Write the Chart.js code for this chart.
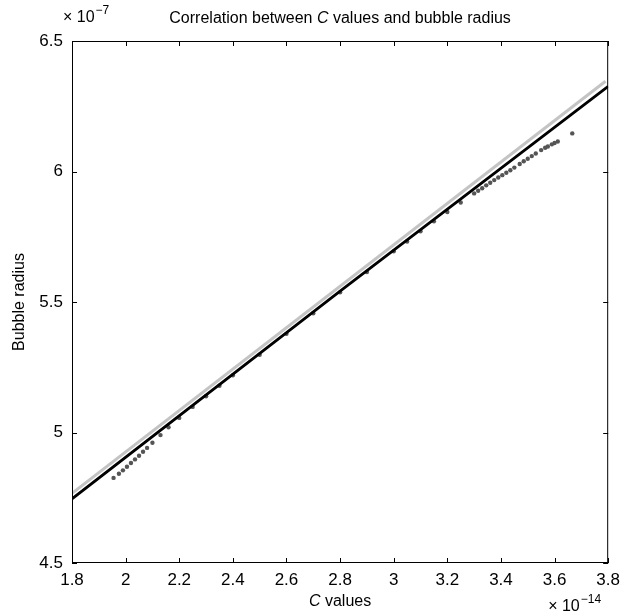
<!DOCTYPE html>
<html>
<head>
<meta charset="utf-8">
<script src="https://cdn.jsdelivr.net/npm/chart.js@4"></script>
<style>
  body { margin: 0; background: #fff; }
  #wrap { width: 627px; height: 613px; }
</style>
</head>
<body>
<div id="wrap"><canvas id="corr__chart" width="627" height="613"></canvas></div>
<script>
// C values (x 1e-14) and bubble radius (x 1e-7)
var cValues = [1.955, 1.975, 1.99, 2.005, 2.02, 2.035, 2.05, 2.065, 2.08, 2.1, 2.13, 2.16,
    2.2, 2.25, 2.3, 2.35, 2.4, 2.5, 2.6, 2.7, 2.8, 2.9, 3.0, 3.05, 3.1, 3.15, 3.2, 3.25,
    3.3, 3.315, 3.33, 3.345, 3.36, 3.375, 3.39, 3.405, 3.42, 3.435, 3.45, 3.47, 3.485,
    3.5, 3.515, 3.53, 3.55, 3.565, 3.575, 3.59, 3.6, 3.612, 3.666];
var bubbleRadius = [4.826, 4.842, 4.855, 4.869, 4.883, 4.897, 4.911, 4.926, 4.941, 4.961, 4.99, 5.02,
    5.056, 5.098, 5.139, 5.179, 5.219, 5.298, 5.378, 5.457, 5.537, 5.615, 5.694, 5.732, 5.771, 5.809, 5.845, 5.881,
    5.916, 5.926, 5.936, 5.947, 5.957, 5.967, 5.977, 5.986, 5.995, 6.005, 6.015, 6.029, 6.039,
    6.049, 6.059, 6.069, 6.082, 6.091, 6.096, 6.104, 6.109, 6.115, 6.146];

// fitted curve (black) and reference line (light grey)
var fitX = [1.8, 2.8, 3.8];
var fitY = [4.746, 5.542, 6.326];
var refX = [1.8, 3.79];
var refY = [4.767, 6.346];

var xTicks = [1.8, 2, 2.2, 2.4, 2.6, 2.8, 3, 3.2, 3.4, 3.6, 3.8];
var yTicks = [4.5, 5, 5.5, 6, 6.5];

var FONT = '"Liberation Sans", Arial, sans-serif';

function toPoints(xs, ys) {
    return xs.map(function (x, i) { return { x: x, y: ys[i] }; });
}

// "× 10" followed by a raised, smaller exponent
function drawExp(ctx, x, y, exp) {
    ctx.font = '16px ' + FONT;
    ctx.textAlign = 'left';
    ctx.textBaseline = 'alphabetic';
    ctx.fillText('\u00d7 10', x, y);
    var w = ctx.measureText('\u00d7 10').width;
    ctx.font = '12px ' + FONT;
    ctx.fillText(exp, x + w + 1, y - 8);
}

var matlabFrame = {
    id: 'matlabFrame',
    afterDraw: function (chart) {
        var ctx = chart.ctx, a = chart.chartArea;
        var xs = chart.scales.x, ys = chart.scales.y;
        ctx.save();
        ctx.strokeStyle = '#000';
        ctx.lineWidth = 1;
        ctx.strokeRect(a.left + 0.5, a.top + 0.5, a.right - a.left - 1, a.bottom - a.top - 1);
        ctx.beginPath();
        xTicks.forEach(function (v) {
            var px = Math.round(xs.getPixelForValue(v)) + 0.5;
            ctx.moveTo(px, a.bottom); ctx.lineTo(px, a.bottom - 5);
            ctx.moveTo(px, a.top); ctx.lineTo(px, a.top + 5);
        });
        yTicks.forEach(function (v) {
            var py = Math.round(ys.getPixelForValue(v)) + 0.5;
            ctx.moveTo(a.left, py); ctx.lineTo(a.left + 5, py);
            ctx.moveTo(a.right, py); ctx.lineTo(a.right - 5, py);
        });
        ctx.stroke();

        ctx.fillStyle = '#000';
        ctx.textAlign = 'left';
        ctx.textBaseline = 'alphabetic';
        // title, C in italics
        var t1 = 'Correlation between ', t2 = 'C', t3 = ' values and bubble radius';
        ctx.font = '16px ' + FONT;
        var w1 = ctx.measureText(t1).width, w3 = ctx.measureText(t3).width;
        ctx.font = 'italic 16px ' + FONT;
        var w2 = ctx.measureText(t2).width;
        var cx = (a.left + a.right) / 2;
        var sx = cx - (w1 + w2 + w3) / 2;
        ctx.font = '16px ' + FONT;
        ctx.fillText(t1, sx, 23);
        ctx.font = 'italic 16px ' + FONT;
        ctx.fillText(t2, sx + w1, 23);
        ctx.font = '16px ' + FONT;
        ctx.fillText(t3, sx + w1 + w2, 23);

        // x axis title
        var a1 = 'C', a2 = ' values';
        ctx.font = 'italic 16px ' + FONT;
        var aw1 = ctx.measureText(a1).width;
        ctx.font = '16px ' + FONT;
        var aw2 = ctx.measureText(a2).width;
        var ax = cx - (aw1 + aw2) / 2;
        ctx.font = 'italic 16px ' + FONT;
        ctx.fillText(a1, ax, 606);
        ctx.font = '16px ' + FONT;
        ctx.fillText(a2, ax + aw1, 606);

        // y axis title
        ctx.save();
        ctx.translate(24, (a.top + a.bottom) / 2);
        ctx.rotate(-Math.PI / 2);
        ctx.textAlign = 'center';
        ctx.font = '16px ' + FONT;
        ctx.fillText('Bubble radius', 0, 0);
        ctx.restore();

        drawExp(ctx, a.left - 9, 22, '\u22127');
        drawExp(ctx, a.right - 60, 611, '\u221214');
        ctx.restore();
    }
};

var ctx = document.getElementById('corr__chart').getContext('2d');
var corrChart = new Chart(ctx, {
    type: 'scatter',
    data: {
        datasets: [{
            data: toPoints(fitX, fitY),
            showLine: true,
            borderColor: '#000',
            borderWidth: 2.8,
            pointRadius: 0,
            order: 0
        }, {
            data: toPoints(cValues, bubbleRadius),
            showLine: false,
            pointRadius: 2.2,
            pointBorderWidth: 0,
            backgroundColor: '#555',
            borderColor: '#555',
            order: 1
        }, {
            data: toPoints(refX, refY),
            showLine: true,
            borderColor: '#c4c4c4',
            borderWidth: 3,
            pointRadius: 0,
            order: 2
        }]
    },
    options: {
        responsive: false,
        animation: false,
        layout: { padding: { top: 41, right: 14, left: 0, bottom: 0 } },
        plugins: {
            legend: { display: false },
            tooltip: { enabled: false }
        },
        scales: {
            x: {
                type: 'linear',
                min: 1.8,
                max: 3.8,
                afterBuildTicks: function (scale) {
                    scale.ticks = xTicks.map(function (v) { return { value: v }; });
                },
                afterFit: function (scale) { scale.height = 50; },
                grid: { display: false, drawTicks: false },
                border: { display: false },
                ticks: {
                    padding: 7,
                    color: '#000',
                    font: { family: FONT, size: 17 },
                    callback: function (v) { return String(+v.toFixed(1)); }
                }
            },
            y: {
                type: 'linear',
                min: 4.5,
                max: 6.5,
                afterBuildTicks: function (scale) {
                    scale.ticks = yTicks.map(function (v) { return { value: v }; });
                },
                afterFit: function (scale) { scale.width = 72; },
                grid: { display: false, drawTicks: false },
                border: { display: false },
                ticks: {
                    padding: 9,
                    color: '#000',
                    font: { family: FONT, size: 17 },
                    callback: function (v) { return String(+v.toFixed(1)); }
                }
            }
        }
    },
    plugins: [matlabFrame]
});
</script>
</body>
</html>
